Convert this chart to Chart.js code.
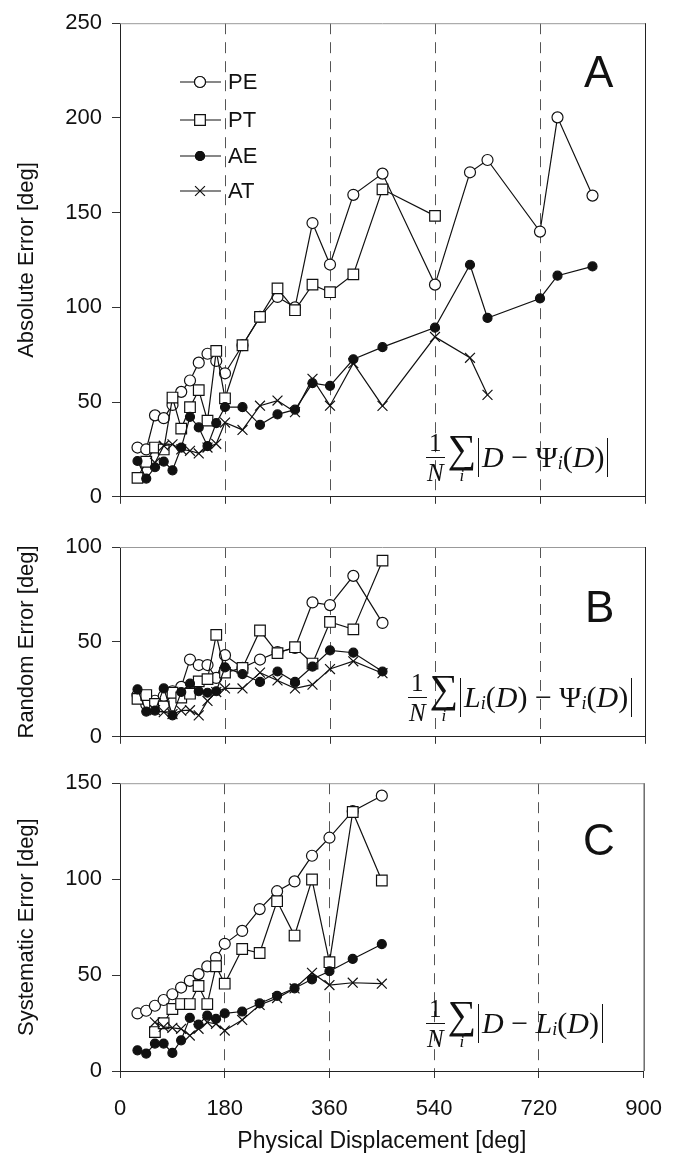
<!DOCTYPE html>
<html>
<head>
<meta charset="utf-8">
<script src="https://cdn.jsdelivr.net/npm/chart.js@4/dist/chart.umd.min.js"></script>
<style>
  body { margin: 0; background: #fff; }
  #wrap { position: relative; width: 680px; height: 1165px; overflow: hidden; }
  canvas { position: absolute; left: 0; }
  .tag { position: absolute; font-family: 'Liberation Sans', Arial, sans-serif; font-size: 44px; color: #111; line-height: 1; }
  .eq { position: absolute; display: flex; align-items: center; font-family: 'Liberation Serif', 'Times New Roman', serif; font-size: 30px; color: #111; white-space: nowrap; }
  .frac { display: flex; flex-direction: column; align-items: center; font-size: 25px; line-height: 1; margin-right: 3px; }
  .frac .num { border-bottom: 1.5px solid #111; padding: 0 3px 2px; }
  .frac .den { font-style: italic; padding-top: 2px; }
  .sum { display: flex; flex-direction: column; align-items: center; line-height: 0.9; font-size: 40px; margin-right: 2px; }
  .sum .idx { font-size: 17px; font-style: italic; line-height: 1; }
  .abs { border-left: 1.5px solid #111; border-right: 1.5px solid #111; padding: 2px 3px; line-height: 1.15; }
  .abs sub { font-size: 18px; vertical-align: -2px; }
</style>
</head>
<body>
<div id="wrap">
  <canvas id="chartA" width="680" height="520" style="top:0"></canvas>
  <canvas id="chartB" width="680" height="240" style="top:520px"></canvas>
  <canvas id="chartC" width="680" height="405" style="top:760px"></canvas>
  <div class="tag" style="left:584px; top:50px">A</div>
  <div class="tag" style="left:585px; top:585px">B</div>
  <div class="tag" style="left:583px; top:818px">C</div>
  <div class="eq" style="left:426px; top:430px">
    <div class="frac"><span class="num">1</span><span class="den">N</span></div>
    <div class="sum"><span>∑</span><span class="idx">i</span></div>
    <div class="abs"><i>D</i> − Ψ<sub><i>i</i></sub>(<i>D</i>)</div>
  </div>
  <div class="eq" style="left:408px; top:670px">
    <div class="frac"><span class="num">1</span><span class="den">N</span></div>
    <div class="sum"><span>∑</span><span class="idx">i</span></div>
    <div class="abs"><i>L</i><sub><i>i</i></sub>(<i>D</i>) − Ψ<sub><i>i</i></sub>(<i>D</i>)</div>
  </div>
  <div class="eq" style="left:426px; top:996px">
    <div class="frac"><span class="num">1</span><span class="den">N</span></div>
    <div class="sum"><span>∑</span><span class="idx">i</span></div>
    <div class="abs"><i>D</i> − <i>L</i><sub><i>i</i></sub>(<i>D</i>)</div>
  </div>
</div>
<script>
// x positions (physical displacement, deg)
const xLong = [30, 45, 60, 75, 90, 105, 120, 135, 150, 165, 180, 210, 240, 270, 300, 330, 360, 400, 450, 540, 600, 630, 720, 750, 810];
const xPtA = [30, 45, 60, 75, 90, 105, 120, 135, 150, 165, 180, 210, 240, 270, 300, 330, 360, 400, 450, 540];
const xAtA = [60, 75, 90, 105, 120, 135, 150, 165, 180, 210, 240, 270, 300, 330, 360, 400, 450, 540, 600, 630];
const xShort = [30, 45, 60, 75, 90, 105, 120, 135, 150, 165, 180, 210, 240, 270, 300, 330, 360, 400, 450];
const xShort60 = [60, 75, 90, 105, 120, 135, 150, 165, 180, 210, 240, 270, 300, 330, 360, 400, 450];

// A: absolute error
const absPE = [26, 25, 43, 41.5, 48.5, 55.4, 61.4, 70.8, 75.5, 71.7, 65.2, 80, 95, 105.5, 100, 144.5, 122.6, 159.4, 170.6, 112, 171.3, 177.8, 140, 200.3, 159];
const absPT = [10, 18.5, 26, 25, 52.4, 36, 47.3, 56.3, 40.2, 77, 52, 80, 95, 110, 98.5, 112, 108, 117.4, 162.3, 148.3];
const absAE = [18.9, 9.6, 15.6, 18.6, 14, 26, 42.2, 36.6, 26.8, 38.9, 47.4, 47.3, 38, 43.5, 46, 60, 58.6, 72.6, 79, 89.3, 122.5, 94.4, 104.7, 116.7, 121.6];
const absAT = [18, 27, 27.7, 25, 24.3, 22.9, 26, 28, 39.2, 35.3, 48.1, 50.8, 44.7, 62.3, 48.1, 70.5, 48, 84.4, 73.4, 53.8];

// B: random error
const rndPE = [22, 17, 19, 21.5, 24, 26.3, 40.7, 37.8, 37.8, 31, 43, 36.3, 40.7, 44.6, 46.8, 70.8, 69.4, 84.8, 60];
const rndPT = [20, 22, 17.3, 16, 23.2, 20.7, 22.7, 29.2, 30.4, 53.7, 33.8, 36.3, 56, 44.1, 47.2, 38.6, 60.5, 56.6, 92.8];
const rndAE = [25, 13.3, 13.8, 25.5, 11.3, 23.6, 28, 24, 23.2, 24, 36.6, 33, 28.9, 34.4, 28.9, 37, 45.5, 44.3, 34.4];
const rndAT = [14, 13, 12, 13.8, 14, 11.3, 18.9, 23.6, 25.5, 25.5, 33.8, 29.7, 25.5, 27.5, 35.7, 39.8, 33.5];

// C: systematic error
const sysPE = [30, 31.4, 34, 37, 40, 43.5, 47, 50.5, 54.5, 59, 66.3, 73, 84.4, 93.7, 98.8, 112.2, 121.6, 135.4, 143.5];
const sysPT = [20.3, 24.9, 32.3, 34.9, 34.9, 44.3, 34.9, 54.6, 45.5, 63.6, 61.5, 88.5, 70.6, 99.8, 56.7, 135, 99.3];
const sysAE = [10.8, 9.1, 14.3, 14.3, 9.4, 16, 27.7, 24.2, 28.9, 27.2, 30, 31, 35.2, 39.2, 43.1, 47.8, 52, 58.4, 66.1];
const sysAT = [25.4, 23, 22.5, 22, 18.5, 22, 25.4, 24.6, 21.1, 26.6, 34.4, 38, 43, 51.2, 44.8, 46, 45.5];

const xTicks = [0, 180, 360, 540, 720, 900];
const seriesNames = ['PE', 'PT', 'AE', 'AT'];

const FONT = "'Liberation Sans', Arial, sans-serif";

function pts(xs, ys) {
    return ys.map((y, i) => ({x: xs[i], y: y}));
}

// marker styles for each series
const styles = {
    PE: {pointStyle: 'circle', pointRadius: 5.5, pointBackgroundColor: '#fff'},
    PT: {pointStyle: 'rect', pointRadius: 7.5, pointBackgroundColor: '#fff'},
    AE: {pointStyle: 'circle', pointRadius: 4.5, pointBackgroundColor: '#111'},
    AT: {pointStyle: 'crossRot', pointRadius: 7, pointBackgroundColor: '#111'}
};

function makeSet(name, data) {
    return Object.assign({
        label: name,
        data: data,
        borderColor: '#111',
        borderWidth: 1.2,
        pointBorderColor: '#111',
        pointBorderWidth: 1.2,
        pointHoverRadius: 0,
        fill: false,
        tension: 0
    }, styles[name]);
}

const boxPlugin = {
    id: 'box',
    beforeDatasetsDraw(chart) {
        const {ctx, chartArea: a} = chart;
        ctx.save();
        ctx.lineWidth = 1;
        ctx.strokeStyle = '#999';
        ctx.beginPath();
        ctx.moveTo(a.left, a.top + 0.5);
        ctx.lineTo(a.right, a.top + 0.5);
        ctx.stroke();
        ctx.strokeStyle = '#222';
        ctx.beginPath();
        ctx.moveTo(a.right + 0.5, a.top);
        ctx.lineTo(a.right + 0.5, a.bottom);
        ctx.stroke();
        ctx.restore();
    }
};

// legend drawn inside panel A, top-left
const legendPlugin = {
    id: 'innerLegend',
    afterDraw(chart) {
        const ctx = chart.ctx;
        const ys = [82, 120, 156, 191];
        ctx.save();
        ctx.font = '22px ' + FONT;
        ctx.textBaseline = 'middle';
        seriesNames.forEach((name, i) => {
            const y = ys[i];
            const st = styles[name];
            ctx.strokeStyle = '#111';
            ctx.lineWidth = 1.2;
            ctx.beginPath();
            ctx.moveTo(180, y);
            ctx.lineTo(221, y);
            ctx.stroke();
            Chart.helpers.drawPoint(ctx, {
                pointStyle: st.pointStyle,
                radius: st.pointRadius,
                borderWidth: 1.2
            }, 200, y);
            ctx.fillStyle = st.pointBackgroundColor;
            if (st.pointStyle !== 'crossRot') {
                ctx.beginPath();
                if (st.pointStyle === 'circle') {
                    ctx.arc(200, y, st.pointRadius, 0, Math.PI * 2);
                } else {
                    const h = st.pointRadius * Math.SQRT1_2;
                    ctx.rect(200 - h, y - h, 2 * h, 2 * h);
                }
                ctx.fill();
                ctx.stroke();
            }
            ctx.fillStyle = '#111';
            ctx.fillText(name, 228, y + 1);
        });
        ctx.restore();
    }
};

function makePanel(id, sets, yMax, yTitle, opts) {
    const plugins = [boxPlugin];
    if (opts.legend) plugins.push(legendPlugin);
    return new Chart(document.getElementById(id), {
        type: 'line',
        data: {datasets: sets},
        plugins: plugins,
        options: {
            responsive: false,
            animation: false,
            events: [],
            layout: {padding: {left: 10, right: 35, top: opts.top, bottom: 0}},
            plugins: {legend: {display: false}, tooltip: {enabled: false}},
            scales: {
                x: {
                    type: 'linear',
                    min: 0,
                    max: 900,
                    afterBuildTicks: s => { s.ticks = xTicks.map(v => ({value: v})); },
                    afterFit: s => { s.height = opts.xHeight; },
                    grid: {
                        color: c => (c.tick && (c.tick.value === 0 || c.tick.value === 900)) ? 'rgba(0,0,0,0)' : '#555',
                        lineWidth: 1,
                        tickColor: '#333',
                        tickLength: 7,
                        drawTicks: true
                    },
                    border: {color: '#222', width: 1, dash: [11, 8]},
                    ticks: {
                        display: !!opts.xLabels,
                        padding: 18,
                        color: '#111',
                        font: {family: FONT, size: 22}
                    },
                    title: {
                        display: !!opts.xLabels,
                        text: 'Physical Displacement [deg]',
                        color: '#111',
                        font: {family: FONT, size: 23},
                        padding: {top: 0, bottom: 10}
                    }
                },
                y: {
                    min: 0,
                    max: yMax,
                    ticks: {stepSize: 50, padding: 10, color: '#111', font: {family: FONT, size: 22}},
                    afterFit: s => { s.width = 110; },
                    grid: {drawOnChartArea: false, tickLength: 8, tickColor: '#333'},
                    border: {color: '#222', width: 1},
                    title: {
                        display: true,
                        text: yTitle,
                        color: '#111',
                        font: {family: FONT, size: 22},
                        padding: {top: 4, bottom: 0}
                    }
                }
            }
        }
    });
}

// later datasets are drawn first, so PE sits under PT
makePanel('chartA', [
    makeSet('AT', pts(xAtA, absAT)),
    makeSet('AE', pts(xLong, absAE)),
    makeSet('PT', pts(xPtA, absPT)),
    makeSet('PE', pts(xLong, absPE))
], 250, 'Absolute Error [deg]', {top: 16, xHeight: 17, legend: true});

makePanel('chartB', [
    makeSet('AT', pts(xShort60, rndAT)),
    makeSet('AE', pts(xShort, rndAE)),
    makeSet('PT', pts(xShort, rndPT)),
    makeSet('PE', pts(xShort, rndPE))
], 100, 'Random Error [deg]', {top: 27, xHeight: 18});

makePanel('chartC', [
    makeSet('AT', pts(xShort60, sysAT)),
    makeSet('AE', pts(xShort, sysAE)),
    makeSet('PT', pts(xShort60, sysPT)),
    makeSet('PE', pts(xShort, sysPE))
], 150, 'Systematic Error [deg]', {top: 20, xHeight: 94, xLabels: true});
</script>
</body>
</html>
